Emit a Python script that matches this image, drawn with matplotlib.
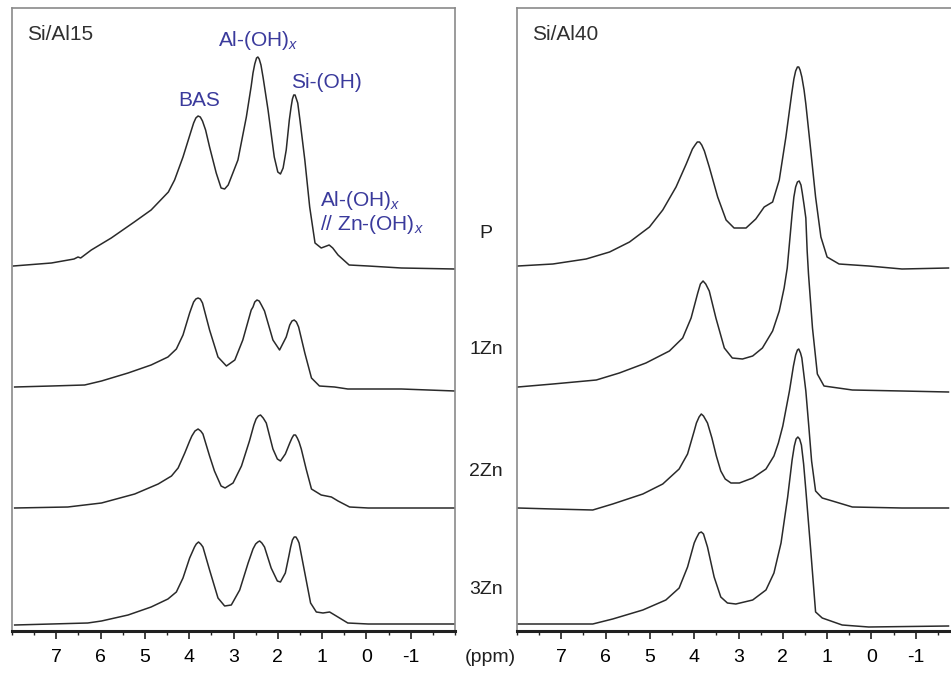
import numpy as np
import matplotlib.pyplot as plt
from matplotlib.ticker import MultipleLocator

plt.rcParams['font.family'] = ['Liberation Sans', 'DejaVu Sans']
plt.rcParams['mathtext.fontset'] = 'custom'
plt.rcParams['mathtext.rm'] = 'Liberation Sans'
plt.rcParams['mathtext.it'] = 'Liberation Sans:italic'
plt.rcParams['axes.unicode_minus'] = False

# ---- data: chemical shift (ppm) and intensity above each trace's baseline
samples = ['P', '1Zn', '2Zn', '3Zn']
offsets = [365, 244, 123, 7]

# Si/Al15
ppm_15_p = [7.97, 7.11, 6.60, 6.51, 6.45, 6.21, 5.76, 5.24, 4.86, 4.47, 4.33, 4.14, 3.95, 3.90, 3.85, 3.80,
            3.75, 3.70, 3.63, 3.54, 3.39, 3.28, 3.20, 3.12, 2.90, 2.71, 2.60, 2.56, 2.52, 2.48, 2.45, 2.42,
            2.38, 2.33, 2.22, 2.08, 2.00, 1.94, 1.88, 1.81, 1.74, 1.70, 1.67, 1.64, 1.61, 1.58, 1.55, 1.50,
            1.39, 1.28, 1.16, 1.02, 0.90, 0.84, 0.76, 0.64, 0.39, -0.04, -0.79, -2.0]
int_15_p = [0, 3, 7, 9, 8, 16, 28, 44, 56, 74, 86, 109, 136, 143, 148, 150,
            149, 145, 136, 119, 93, 78, 77, 81, 106, 149, 180, 193, 202, 208, 209, 207,
            201, 188, 156, 109, 94, 92, 98, 116, 146, 159, 167, 171, 171, 167, 163, 146,
            106, 59, 23, 18, 20, 21, 18, 11, 1, 0, -2, -3]

ppm_15_1 = [7.94, 7.11, 6.36, 5.98, 5.38, 4.86, 4.48, 4.29, 4.14, 3.99, 3.95, 3.90, 3.85, 3.80, 3.75, 3.70,
            3.54, 3.35, 3.16, 2.97, 2.79, 2.60, 2.56, 2.52, 2.47, 2.42, 2.37, 2.30, 2.11, 1.96, 1.81, 1.73,
            1.68, 1.63, 1.58, 1.53, 1.39, 1.24, 1.06, 0.72, 0.42, -0.79, -2.0]
int_15_1 = [0, 1, 2, 6, 14, 22, 30, 38, 52, 74, 79, 85, 88, 89, 88, 84,
            57, 30, 21, 27, 47, 77, 80, 85, 87, 86, 82, 76, 47, 37, 50, 62,
            66, 67, 65, 60, 34, 9, 1, 0, -2, -2, -4]

ppm_15_2 = [7.94, 6.74, 5.98, 5.23, 4.70, 4.40, 4.25, 4.10, 3.99, 3.94, 3.87, 3.80, 3.74, 3.69, 3.54, 3.43,
            3.28, 3.19, 3.01, 2.82, 2.64, 2.54, 2.49, 2.44, 2.39, 2.33, 2.26, 2.11, 2.01, 1.94, 1.83, 1.73,
            1.68, 1.64, 1.60, 1.56, 1.52, 1.47, 1.36, 1.24, 1.02, 0.79, 0.64, 0.38, -0.04, -2.0]
int_15_2 = [0, 1, 5, 14, 24, 32, 40, 55, 67, 72, 77, 79, 77, 74, 52, 37,
            22, 20, 25, 42, 67, 83, 89, 92, 93, 90, 85, 59, 49, 47, 54, 65,
            70, 73, 73, 70, 66, 59, 39, 19, 13, 11, 7, 1, 0, 0]

ppm_15_3 = [7.94, 7.11, 6.29, 5.98, 5.38, 4.86, 4.48, 4.29, 4.14, 3.99, 3.92, 3.88, 3.84, 3.79, 3.74, 3.69,
            3.54, 3.35, 3.20, 3.05, 2.86, 2.67, 2.56, 2.50, 2.45, 2.41, 2.36, 2.30, 2.15, 2.01, 1.94, 1.83,
            1.75, 1.71, 1.67, 1.63, 1.59, 1.55, 1.52, 1.39, 1.26, 1.13, 0.98, 0.83, 0.68, 0.42, -0.04, -2.0]
int_15_3 = [-1, 0, 1, 3, 9, 17, 25, 32, 46, 66, 73, 77, 80, 82, 80, 77,
            54, 26, 18, 19, 34, 61, 75, 80, 82, 83, 81, 77, 56, 43, 42, 51,
            68, 77, 84, 87, 87, 84, 81, 51, 21, 12, 11, 12, 8, 1, 0, 0]

# Si/Al40
ppm_40_p = [7.98, 7.19, 6.44, 5.91, 5.46, 5.01, 4.71, 4.41, 4.18, 4.04, 3.98, 3.93, 3.88, 3.83, 3.77, 3.66,
            3.47, 3.28, 3.10, 2.83, 2.61, 2.42, 2.23, 2.08, 1.93, 1.80, 1.75, 1.71, 1.67, 1.64, 1.61, 1.57,
            1.52, 1.48, 1.37, 1.26, 1.14, 1.00, 0.73, 0.06, -0.69, -1.74]
int_40_p = [0, 2, 7, 14, 24, 39, 56, 79, 102, 117, 121, 124, 124, 121, 115, 99,
            69, 46, 38, 38, 47, 59, 64, 86, 129, 172, 187, 195, 199, 199, 196, 189,
            176, 162, 116, 69, 29, 9, 2, 0, -3, -2]

ppm_40_1 = [7.98, 7.19, 6.21, 5.69, 5.09, 4.56, 4.26, 4.07, 3.92, 3.86, 3.80, 3.74, 3.66, 3.51, 3.32, 3.14,
            2.91, 2.68, 2.46, 2.23, 2.08, 1.97, 1.90, 1.79, 1.75, 1.71, 1.67, 1.63, 1.59, 1.56, 1.52, 1.48,
            1.45, 1.42, 1.33, 1.22, 1.07, 0.43, -0.69, -1.74]
int_40_1 = [0, 3, 7, 14, 24, 36, 49, 69, 94, 103, 106, 103, 96, 69, 39, 29,
            28, 31, 39, 56, 76, 99, 119, 173, 190, 200, 205, 206, 202, 194, 182, 169,
            136, 113, 59, 13, 1, -3, -4, -5]

ppm_40_2 = [7.98, 7.19, 6.29, 5.84, 5.16, 4.71, 4.34, 4.15, 4.00, 3.95, 3.89, 3.84, 3.79, 3.70, 3.60, 3.50,
            3.40, 3.30, 3.17, 2.98, 2.68, 2.38, 2.20, 2.10, 2.00, 1.85, 1.76, 1.71, 1.67, 1.64, 1.60, 1.57,
            1.48, 1.41, 1.35, 1.26, 1.11, 0.88, 0.43, -0.69, -1.74]
int_40_2 = [0, -1, -2, 4, 14, 24, 39, 54, 77, 85, 91, 94, 92, 85, 70, 52,
            37, 29, 25, 25, 30, 39, 52, 65, 82, 117, 142, 153, 158, 159, 155, 150,
            117, 80, 47, 17, 10, 7, 1, 0, 0]

ppm_40_3 = [7.98, 7.19, 6.29, 5.84, 5.16, 4.64, 4.34, 4.15, 4.00, 3.95, 3.89, 3.84, 3.79, 3.70, 3.55, 3.40,
            3.25, 3.06, 2.68, 2.38, 2.20, 2.04, 1.89, 1.79, 1.74, 1.70, 1.66, 1.62, 1.58, 1.53, 1.48, 1.37,
            1.26, 1.11, 0.66, 0.06, -1.74]
int_40_3 = [0, 0, 0, 5, 14, 24, 36, 57, 81, 86, 91, 92, 90, 77, 47, 27,
            21, 20, 24, 34, 51, 81, 127, 164, 178, 185, 187, 185, 179, 160, 134, 74,
            12, 6, -1, -3, -2]

panels = [
    ('Si/Al15', [(ppm_15_p, int_15_p), (ppm_15_1, int_15_1), (ppm_15_2, int_15_2), (ppm_15_3, int_15_3)]),
    ('Si/Al40', [(ppm_40_p, int_40_p), (ppm_40_1, int_40_1), (ppm_40_2, int_40_2), (ppm_40_3, int_40_3)]),
]

fig = plt.figure(figsize=(9.51, 6.73), dpi=100)
ax1 = fig.add_axes([12/951, 42/673, 443/951, 623/673])
ax2 = fig.add_axes([517/951, 42/673, 443/951, 623/673])

for ax, (title, traces) in zip([ax1, ax2], panels):
    for (x, y), off in zip(traces, offsets):
        ax.plot(x, np.array(y) + off, color='#2a2a2a', lw=1.1, solid_joinstyle='round')
    ax.set_xlim(8, -2)
    ax.set_ylim(0, 623)
    ax.set_yticks([])
    ax.xaxis.set_major_locator(MultipleLocator(1))
    ax.xaxis.set_minor_locator(MultipleLocator(0.5))
    ax.set_xticks(range(7, -2, -1))
    ax.tick_params(axis='x', which='major', length=6, width=1.2, pad=7, labelsize=14, color='#202020')
    ax.tick_params(axis='x', which='minor', length=3, width=1.0, color='#202020')
    for s in ['left', 'top', 'right']:
        ax.spines[s].set_color('#8a8a8a')
        ax.spines[s].set_linewidth(1.2)
    ax.spines['bottom'].set_color('#202020')
    ax.spines['bottom'].set_linewidth(2.2)
    ax.text(0.033, 0.957, title, transform=ax.transAxes, fontsize=15, color='#303030', ha='left', va='center')

blue = '#3a3a9c'
ax1.text(3.77, 531, 'BAS', color=blue, fontsize=15, ha='center', va='center')
ax1.text(2.45, 591, 'Al-(OH)$_x$', color=blue, fontsize=15, ha='center', va='center')
ax1.text(0.90, 548, 'Si-(OH)', color=blue, fontsize=15, ha='center', va='center')
ax1.text(1.05, 430, 'Al-(OH)$_x$', color=blue, fontsize=15, ha='left', va='center')
ax1.text(1.05, 406, '// Zn-(OH)$_x$', color=blue, fontsize=15, ha='left', va='center')

label_y = [233, 350, 472, 590]
for name, yp in zip(samples, label_y):
    fig.text(486/951, 1 - yp/673, name, fontsize=14, ha='center', va='center', color='#202020')
fig.text(490/951, 1 - 657/673, '(ppm)', fontsize=14, ha='center', va='center', color='#202020')

fig.savefig('out.png', dpi=100)
